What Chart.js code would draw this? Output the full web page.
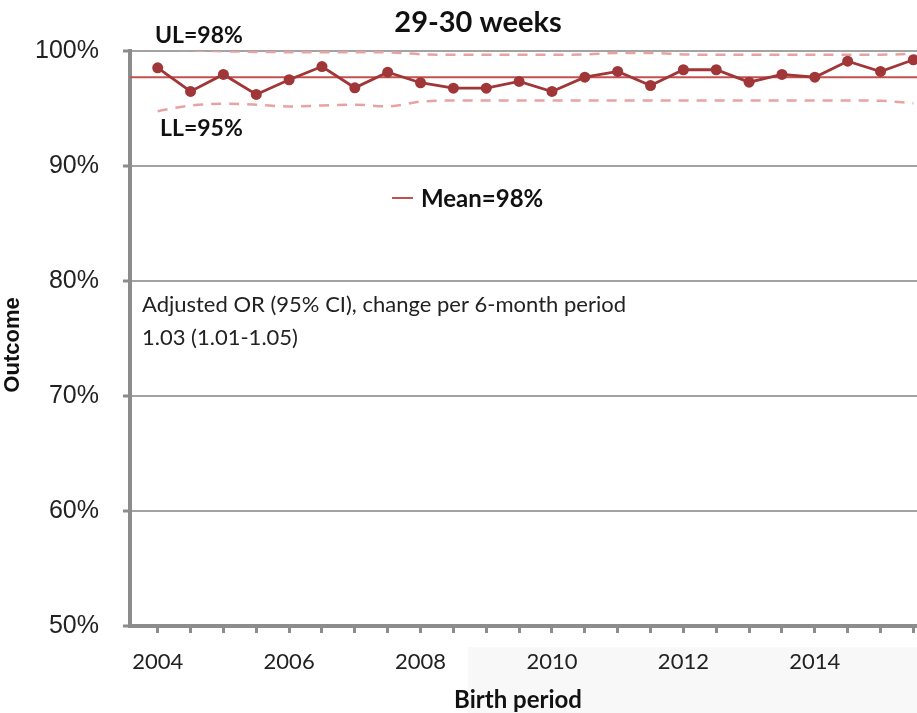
<!DOCTYPE html>
<html>
<head>
<meta charset="utf-8">
<script src="https://cdn.jsdelivr.net/npm/chart.js@4.4.1/dist/chart.umd.min.js"></script>
<style>
  html, body { margin: 0; padding: 0; background: #fff; overflow: hidden; }
  #wrap { width: 917px; height: 713px; position: relative; }
</style>
</head>
<body>
<div id="wrap"><canvas id="c"></canvas></div>
<script>
// Half-year birth periods, labelled every second year
const periodLabels = ['2004','','','','2006','','','','2008','','','','2010','','','','2012','','','','2014','','',''];
// Outcome (%) per period
const outcome = [98.54, 96.48, 97.96, 96.22, 97.50, 98.65, 96.80, 98.16, 97.24, 96.77, 96.77, 97.35,
                 96.48, 97.72, 98.22, 97.00, 98.37, 98.37, 97.29, 97.96, 97.72, 99.11, 98.22, 99.24];
// Upper and lower control limits (%)
const upperLimit = [100.25, 100.05, 99.98, 99.92, 99.9, 99.9, 99.9, 99.88, 99.72, 99.67, 99.67, 99.67,
                    99.67, 99.7, 99.83, 99.83, 99.7, 99.67, 99.67, 99.67, 99.67, 99.67, 99.68, 99.75];
const lowerLimit = [94.77, 95.26, 95.41, 95.33, 95.18, 95.26, 95.33, 95.18, 95.6, 95.7, 95.7, 95.7,
                    95.7, 95.7, 95.7, 95.7, 95.7, 95.7, 95.7, 95.7, 95.7, 95.7, 95.67, 95.46];
const meanValue = 97.72;
const yTickValues = [50, 60, 70, 80, 90, 100];

const pts = arr => arr.map((v, i) => ({ x: i, y: v }));

const LINE_RED = '#a13638';
const MEAN_RED = '#c4504e';
const LIMIT_PINK = '#e7a3a3';
const AXIS_GREY = '#8c8c8c';
const GRID_GREY = '#a3a3a3';
const CAL = 'Lato, "Open Sans", sans-serif';

const decorations = {
  id: 'decorations',
  beforeDraw(chart) {
    const ctx = chart.ctx;
    ctx.save();
    ctx.fillStyle = '#f8f8f8';
    ctx.fillRect(468, 647, 460, 70);
    ctx.restore();
  },
  beforeDatasetsDraw(chart) {
    const ctx = chart.ctx, a = chart.chartArea;
    const y = chart.scales.y.getPixelForValue(meanValue);
    ctx.save();
    ctx.strokeStyle = MEAN_RED;
    ctx.lineWidth = 2;
    ctx.beginPath();
    ctx.moveTo(a.left, y);
    ctx.lineTo(a.right, y);
    ctx.stroke();
    ctx.restore();
  },
  afterDraw(chart) {
    const ctx = chart.ctx;
    ctx.save();
    ctx.fillStyle = '#111';
    ctx.textBaseline = 'middle';

    ctx.textAlign = 'center';
    ctx.font = 'bold 29px ' + CAL;
    ctx.fillText('29-30 weeks', 478, 23);

    ctx.textAlign = 'left';
    ctx.font = 'bold 23px ' + CAL;
    ctx.fillText('UL=98%', 155, 36);
    ctx.fillText('LL=95%', 160, 129);

    // legend entry for the mean line
    ctx.strokeStyle = MEAN_RED;
    ctx.lineWidth = 2;
    ctx.beginPath();
    ctx.moveTo(392, 198);
    ctx.lineTo(413, 198);
    ctx.stroke();
    ctx.font = 'bold 24px ' + CAL;
    ctx.fillText('Mean=98%', 421, 199);

    ctx.fillStyle = '#222';
    ctx.font = '22px ' + CAL;
    ctx.fillText('Adjusted OR (95% CI), change per 6-month period', 142, 305);
    ctx.fillText('1.03 (1.01-1.05)', 142, 338);

    ctx.fillStyle = '#111';
    ctx.textAlign = 'center';
    ctx.font = 'bold 24px ' + CAL;
    ctx.fillText('Birth period', 518, 700);

    ctx.translate(13, 345);
    ctx.rotate(-Math.PI / 2);
    ctx.font = 'bold 22px "Liberation Sans", Arial, sans-serif';
    ctx.fillText('Outcome', 0, 0);
    ctx.restore();
  }
};

new Chart(document.getElementById('c'), {
  type: 'line',
  data: {
    datasets: [
      {
        label: 'Outcome',
        data: pts(outcome),
        borderColor: LINE_RED,
        backgroundColor: LINE_RED,
        borderWidth: 2.8,
        pointRadius: 5.5,
        pointBorderWidth: 0,
        pointBackgroundColor: LINE_RED,
        tension: 0,
        order: 0
      },
      {
        label: 'UL',
        data: pts(upperLimit),
        borderColor: LIMIT_PINK,
        borderWidth: 2.5,
        borderDash: [10, 8],
        pointRadius: 0,
        cubicInterpolationMode: 'monotone',
        order: 1
      },
      {
        label: 'LL',
        data: pts(lowerLimit),
        borderColor: LIMIT_PINK,
        borderWidth: 2.5,
        borderDash: [10, 8],
        pointRadius: 0,
        cubicInterpolationMode: 'monotone',
        order: 1
      }
    ]
  },
  options: {
    responsive: true,
    maintainAspectRatio: false,
    animation: false,
    events: [],
    layout: { autoPadding: false, padding: { top: 51, left: 0, right: 0, bottom: 0 } },
    plugins: { legend: { display: false }, title: { display: false }, tooltip: { enabled: false } },
    scales: {
      x: {
        type: 'linear',
        min: -0.843,
        max: 23.11,
        afterFit(s) { s.height = 87; s.paddingLeft = 0; s.paddingRight = 0; },
        border: { display: true, color: AXIS_GREY, width: 4 },
        grid: { drawOnChartArea: false, drawTicks: true, tickLength: 7, tickWidth: 3, tickColor: AXIS_GREY },
        ticks: {
          stepSize: 1,
          includeBounds: false,
          autoSkip: false,
          maxRotation: 0,
          padding: 16,
          color: '#222',
          font: { family: CAL, size: 22 },
          callback: v => (Number.isInteger(v) && periodLabels[v] !== undefined) ? periodLabels[v] : ''
        }
      },
      y: {
        min: 50,
        max: 100,
        afterFit(s) { s.width = 130; s.paddingTop = 0; s.paddingBottom = 0; },
        afterBuildTicks(s) { s.ticks = yTickValues.map(v => ({ value: v })); },
        border: { display: true, color: AXIS_GREY, width: 4 },
        grid: { color: GRID_GREY, lineWidth: 2, drawTicks: true, tickLength: 7, tickWidth: 3, tickColor: AXIS_GREY },
        ticks: {
          padding: 24,
          color: '#222',
          font: { family: '"Liberation Sans", Arial, sans-serif', size: 25 },
          callback: v => v + '%'
        }
      }
    }
  },
  plugins: [decorations]
});
</script>
</body>
</html>
